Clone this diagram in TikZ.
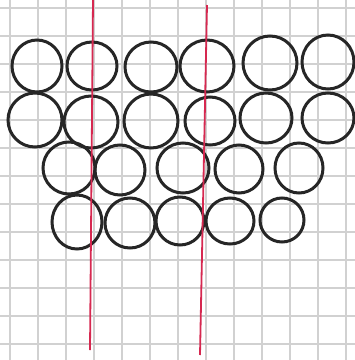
\documentclass[tikz,border=0pt]{standalone}
\begin{document}
\begin{tikzpicture}[x=1pt,y=-1pt,
  gridline/.style={draw=black!18,line width=1.4pt},
  ring/.style={draw=black!85,line width=3pt},
  redline/.style={draw={rgb,255:red,214;green,40;blue,80},line width=1.8pt}]
\useasboundingbox[fill=white] (0,0) rectangle (355,360);
\foreach \gx in {10,38,66,94,122,150,178,206,234,262,290,318,346}
  \draw[gridline] (\gx,0) -- (\gx,360);
\foreach \gy in {8,36,64,92,120,148,176,204,232,260,288,316,344}
  \draw[gridline] (0,\gy) -- (355,\gy);
\foreach \cx/\cy/\rx/\ry in {
  37/66/25/26, 92/66/25/24, 151/67/26/25, 207/66/27/26, 270/63/27/27, 328/62/26/27,
  35/120/27/27, 91/122/27/26, 151/121/27/27, 210/121/25/24, 266/118/26/25, 328/118/26/25,
  69/168/26/26, 120/170/25/25, 183/168/26/25, 239/169/24/24, 299/168/24/25,
  77/222/25/27, 130/223/25/25, 180/221/24/24, 230/221/24/23, 282/220/22/22}
  \draw[ring] (\cx,\cy) ellipse [x radius=\rx, y radius=\ry];
\coordinate (r1a) at (93,0);
\coordinate (r1b) at (90,350);
\coordinate (r2a) at (207,5);
\coordinate (r2b) at (200,355);
\draw[redline] (r1a) -- (r1b);
\draw[redline] (r2a) -- (r2b);
\end{tikzpicture}
\end{document}
